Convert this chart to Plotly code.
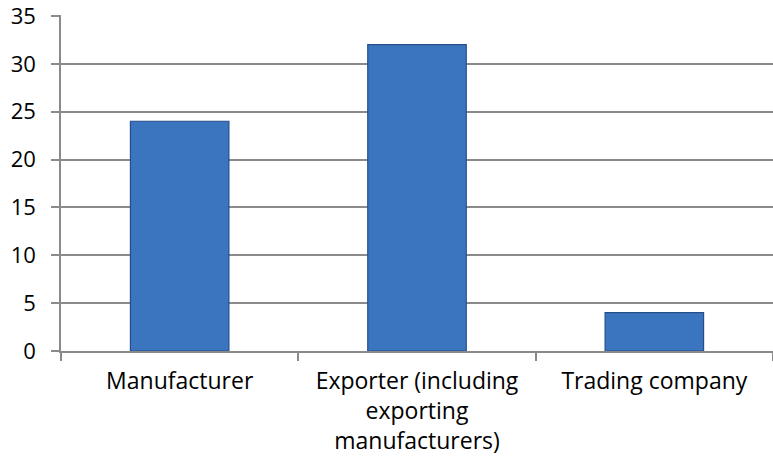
import plotly.graph_objects as go

categories = ["Manufacturer", "Exporter (including<br>exporting<br>manufacturers)", "Trading company"]
values = [24, 32, 4]
y_ticks = [0, 5, 10, 15, 20, 25, 30, 35]

fig = go.Figure()
fig.add_trace(go.Bar(
    x=categories, y=values,
    marker=dict(color="#3b74bf", line=dict(color="#264f8a", width=1.2)),
    width=0.415,
))

yfont = dict(family="Open Sans", size=22, color="#000000")
xfont = dict(family="Open Sans", size=23, color="#000000")
fig.update_layout(
    width=773, height=465,
    margin=dict(l=61, r=0, t=15, b=114),
    paper_bgcolor="white", plot_bgcolor="white",
    showlegend=False,
    font=yfont,
)
fig.update_yaxes(
    range=[0, 35.1], tickvals=y_ticks, ticks="outside", ticklen=8,
    tickcolor="#8a8a8a", tickwidth=1.5,
    showgrid=True, gridcolor="#8a8a8a", gridwidth=1.5,
    showline=True, linecolor="#8a8a8a", linewidth=1.5,
    zeroline=False, tickfont=yfont, ticklabelstandoff=11, automargin=False,
    ticklabeloverflow="allow",
)
fig.update_xaxes(
    range=[-0.5, 2.5], ticks="outside", ticklen=8, tickson="boundaries",
    tickcolor="#8a8a8a", tickwidth=1.5,
    showline=True, linecolor="#8a8a8a", linewidth=1.5,
    showgrid=False, tickfont=xfont, ticklabelstandoff=9, automargin=False,
)
fig.write_html("out.html", config={"displayModeBar": False},
               post_script="document.body.style.margin='0';")
